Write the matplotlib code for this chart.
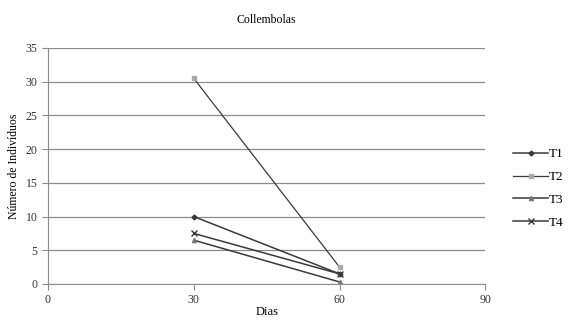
import matplotlib.pyplot as plt

plt.rcParams['font.family'] = ['Liberation Serif', 'DejaVu Serif']

dias = [30, 60]
t1 = [10, 1.5]
t2 = [30.5, 2.5]
t3 = [6.5, 0.3]
t4 = [7.5, 1.5]

fig = plt.figure(figsize=(5.68, 3.2), dpi=100)
ax = fig.add_axes([0.0845, 0.1125, 0.77, 0.7375])

ax.plot(dias, t1, color='#3a3a3a', lw=1.1, marker='D', ms=2.5, label='T1')
ax.plot(dias, t2, color='#3a3a3a', lw=0.9, marker='s', ms=3, mfc='#aaaaaa', mec='#aaaaaa', label='T2')
ax.plot(dias, t3, color='#3a3a3a', lw=1.1, marker='^', ms=3, mfc='#777777', mec='#777777', label='T3')
ax.plot(dias, t4, color='#3a3a3a', lw=1.1, marker='x', ms=4, label='T4')

ax.set_xlim(0, 90)
ax.set_ylim(0, 35)
ax.set_xticks([0, 30, 60, 90])
ax.set_yticks(range(0, 36, 5))
ax.grid(axis='y', color='#8c8c8c', lw=0.9)
ax.set_axisbelow(True)
for s in ['top', 'right']:
    ax.spines[s].set_visible(False)
ax.spines['left'].set_color('#8c8c8c')
ax.spines['bottom'].set_color('#8c8c8c')
ax.tick_params(colors='#8c8c8c', labelcolor='#333333', labelsize=8.5, length=4)

ax.set_title('Collembolas', fontsize=8.5, pad=18)
ax.set_xlabel('Dias', fontsize=9, labelpad=0)
ax.set_ylabel('Número de Indivíduos', fontsize=8.5, labelpad=4)

ax.legend(loc='center left', bbox_to_anchor=(1.037, 0.405), frameon=False, fontsize=9.5,
          handlelength=2.6, handletextpad=0.1, labelspacing=0.8)

fig.savefig('out.png', dpi=100)
